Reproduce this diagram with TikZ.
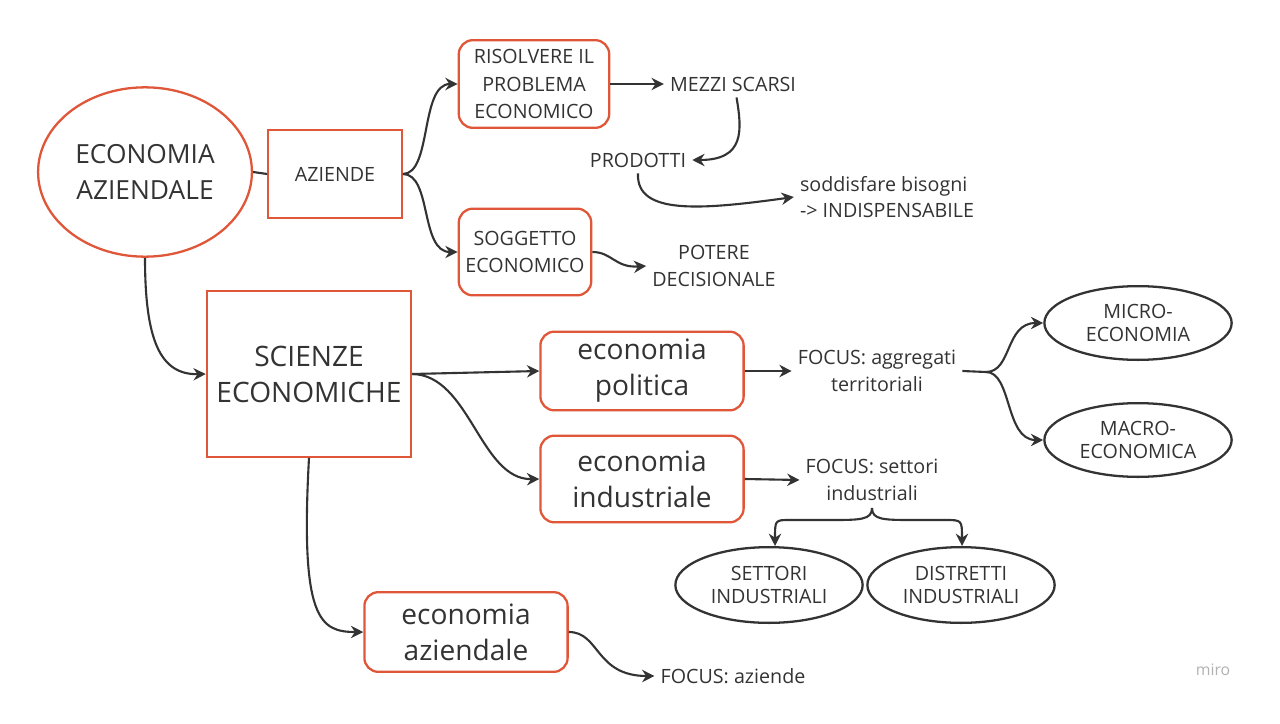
\documentclass[tikz,border=0pt]{standalone}
\usepackage{fontspec}
\setmainfont{Open Sans}
\usetikzlibrary{shapes.geometric,arrows.meta}
\definecolor{boxred}{RGB}{224,86,56}
\colorlet{ink}{black!80}
\tikzset{
  box/.style = {draw=boxred, line width=1.3pt, align=center, text=ink},
  rbox/.style = {box, rounded corners=8pt},
  oval/.style = {draw=ink, line width=1.3pt, ellipse, align=center, text=ink, font=\fontsize{11.2}{13}\selectfont},
  txt/.style = {align=center, text=ink, font=\fontsize{11.2}{15}\selectfont},
  small/.style = {font=\fontsize{11.2}{15.5}\selectfont},
  big/.style = {font=\fontsize{16}{20.5}\selectfont},
  link/.style = {draw=ink, line width=1.2pt, -{Stealth[length=7pt,width=7pt]}}
}
\begin{document}
\begin{tikzpicture}[x=0.02cm,y=-0.02cm]
  \useasboundingbox (0,0) rectangle (1280,723);
  % top part
  \node[box, ellipse, minimum width=206*0.567pt, minimum height=170*0.567pt, font=\fontsize{15}{20.5}\selectfont] (ea) at (145,172) {ECONOMIA\\AZIENDALE};
  \node[box, small, minimum width=134*0.567pt, minimum height=88*0.567pt] (az) at (335,174) {AZIENDE};
  \node[rbox, small, minimum width=151*0.567pt, minimum height=88*0.567pt] (ris) at (534,84) {RISOLVERE IL\\PROBLEMA\\ECONOMICO};
  \node[txt] (mezzi) at (733,84) {MEZZI SCARSI};
  \node[txt] (prod) at (638,160) {PRODOTTI};
  \node[txt, align=left] (sodd) at (887,197) {soddisfare bisogni\\-> INDISPENSABILE};
  \node[rbox, small, minimum width=133*0.567pt, minimum height=87*0.567pt] (sogg) at (525,252) {SOGGETTO\\ECONOMICO};
  \node[txt] (potere) at (714,266) {POTERE\\DECISIONALE};
  % scienze economiche
  \node[box, big, minimum width=205*0.567pt, minimum height=166*0.567pt] (sci) at (309,374) {SCIENZE\\ECONOMICHE};
  \node[rbox, big, minimum width=204*0.567pt, minimum height=79*0.567pt] (pol) at (642,371) {economia\\politica};
  \node[txt] (fagg) at (877,371) {FOCUS: aggregati\\territoriali};
  \node[oval, minimum width=188*0.567pt, minimum height=74*0.567pt] (micro) at (1138,323) {MICRO-\\ECONOMIA};
  \node[oval, minimum width=188*0.567pt, minimum height=74*0.567pt] (macro) at (1138,440) {MACRO-\\ECONOMICA};
  \node[rbox, big, minimum width=204*0.567pt, minimum height=87*0.567pt] (ind) at (642,479) {economia\\industriale};
  \node[txt] (fsett) at (872,480) {FOCUS: settori\\industriali};
  \node[oval, minimum width=188*0.567pt, minimum height=76*0.567pt] (sett) at (769,585) {SETTORI\\INDUSTRIALI};
  \node[oval, minimum width=188*0.567pt, minimum height=76*0.567pt] (distr) at (961,585) {DISTRETTI\\INDUSTRIALI};
  \node[rbox, big, minimum width=204*0.567pt, minimum height=80*0.567pt] (azi) at (466,632) {economia\\aziendale};
  \node[txt] (faz) at (733,676) {FOCUS: aziende};
  \node[text=black!30, font=\fontsize{9}{10}\selectfont] (miro) at (1213,670) {miro};
  % connectors
  \draw[draw=ink, line width=1.2pt] (ea.east) -- (az.west);
  \draw[link] (az.east) .. controls (432,174) and (420,84) .. (ris.west);
  \draw[link] (az.east) .. controls (432,174) and (420,252) .. (sogg.west);
  \draw[link] (ris.east) -- (mezzi.west);
  \draw[link] ([xshift=2pt]mezzi.south) .. controls (742,130) and (745,160) .. (prod.east);
  \draw[link] (prod.south) .. controls (636,215) and (700,210) .. (sodd.west);
  \draw[link] (sogg.east) .. controls (612,252) and (615,268) .. (potere.west);
  \draw[link] (ea.south) .. controls (145,340) and (160,375) .. (sci.west);
  \draw[link] (sci.east) -- (pol.west);
  \draw[link] (sci.east) .. controls (470,375) and (480,480) .. (ind.west);
  \draw[link] (pol.east) -- (fagg.west);
  \coordinate (j1) at (986,372);
  \draw[draw=ink, line width=1.2pt] (fagg.east) -- (j1);
  \draw[link] (j1) .. controls (1012,372) and (1005,323) .. (micro.west);
  \draw[link] (j1) .. controls (1012,372) and (1005,440) .. (macro.west);
  \draw[link] (ind.east) -- (fsett.west);
  \coordinate (j2) at (872,508);
  \coordinate (s2) at (sett.north -| 775,0);
  \coordinate (d2) at (distr.north -| 962,0);
  \draw[link] (j2) .. controls (872,520) and (860,520) .. (830,520) -- (790,520) .. controls (775,520) .. (s2);
  \draw[link] (j2) .. controls (872,520) and (884,520) .. (914,520) -- (945,520) .. controls (962,520) .. (d2);
  \draw[link] (sci.south) .. controls (300,620) and (320,632) .. (azi.west);
  \draw[link] (azi.east) .. controls (600,632) and (595,676) .. (faz.west);
\end{tikzpicture}
\end{document}
